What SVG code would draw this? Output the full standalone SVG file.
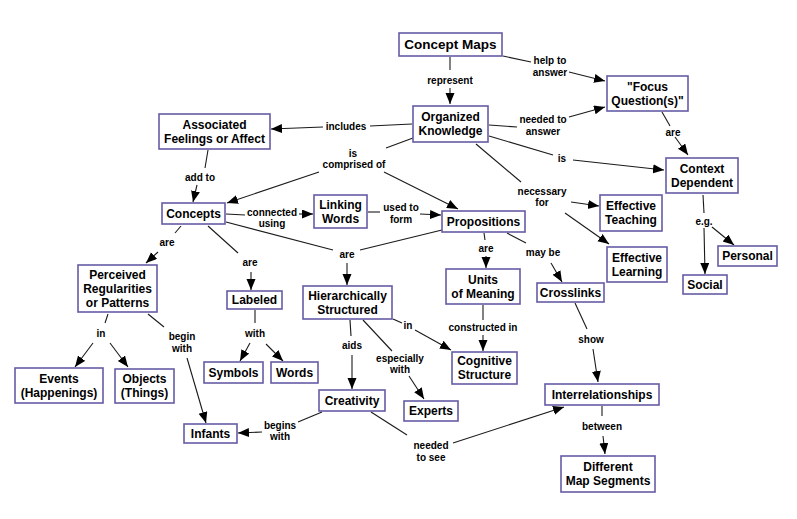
<svg xmlns="http://www.w3.org/2000/svg" width="797" height="519" viewBox="0 0 797 519">
<style>
.n rect{fill:#fff;stroke:#645ca6;stroke-width:1.6}
.n text{font-family:"Liberation Sans",Arial,sans-serif;font-weight:bold;font-size:12px;fill:#000;text-anchor:middle}
.c line{stroke:#1a1a1a;stroke-width:1.1}
.c .a{marker-end:url(#ah)}
.l{font-family:"Liberation Sans",Arial,sans-serif;font-weight:bold;font-size:10px;fill:#000;text-anchor:middle}
</style>
<defs>
<marker id="ah" markerUnits="userSpaceOnUse" markerWidth="12" markerHeight="10" refX="11" refY="4.5" orient="auto">
<path d="M0,0 L11,4.5 L0,9 z" fill="#000"/>
</marker>
</defs>
<rect width="797" height="519" fill="#fff"/>
<g id="connectors" class="c">
<line x1="450" y1="57" x2="450" y2="70"/><line class="a" x1="450" y1="88" x2="450" y2="104"/>
<line x1="503" y1="56" x2="531" y2="62"/><line class="a" x1="569" y1="72" x2="605" y2="81"/>
<line x1="489" y1="125" x2="517" y2="127"/><line class="a" x1="569" y1="117" x2="605" y2="107"/>
<line x1="662" y1="112" x2="670" y2="126"/><line class="a" x1="675" y1="137" x2="688" y2="155"/>
<line x1="489" y1="136" x2="553" y2="155"/><line class="a" x1="573" y1="160" x2="664" y2="170"/>
<line x1="412" y1="124" x2="370" y2="126"/><line class="a" x1="323" y1="127" x2="271" y2="129"/>
<line x1="413" y1="138" x2="386" y2="148"/><line class="a" x1="319" y1="172" x2="227" y2="203"/><line class="a" x1="384" y1="172" x2="458" y2="209"/>
<line x1="208" y1="150" x2="205" y2="168"/><line class="a" x1="197" y1="185" x2="193" y2="202"/>
<line x1="226" y1="214" x2="245" y2="215"/><line class="a" x1="299" y1="214" x2="313" y2="214"/>
<line x1="368" y1="212" x2="380" y2="212"/><line class="a" x1="420" y1="214" x2="441" y2="215"/>
<line x1="226" y1="222" x2="333" y2="250"/><line x1="442" y1="230" x2="360" y2="250"/><line class="a" x1="347" y1="263" x2="347" y2="285"/>
<line x1="181" y1="226" x2="175" y2="233"/><line class="a" x1="158" y1="252" x2="146" y2="263"/>
<line x1="208" y1="226" x2="238" y2="253"/><line class="a" x1="251" y1="272" x2="251" y2="290"/>
<line x1="484" y1="233" x2="485" y2="240"/><line class="a" x1="486" y1="256" x2="486" y2="268"/>
<line x1="507" y1="233" x2="526" y2="243"/><line class="a" x1="551" y1="263" x2="562" y2="282"/>
<line x1="476" y1="144" x2="521" y2="182"/><line class="a" x1="571" y1="202" x2="599" y2="206"/><line class="a" x1="565" y1="213" x2="609" y2="244"/>
<line x1="703" y1="195" x2="704" y2="213"/><line class="a" x1="704" y1="228" x2="705" y2="274"/><line class="a" x1="712" y1="227" x2="734" y2="245"/>
<line x1="108" y1="314" x2="105" y2="323"/><line class="a" x1="93" y1="343" x2="75" y2="367"/><line class="a" x1="110" y1="343" x2="128" y2="367"/>
<line x1="148" y1="314" x2="164" y2="327"/><line class="a" x1="187" y1="358" x2="206" y2="423"/>
<line x1="255" y1="310" x2="255" y2="323"/><line class="a" x1="250" y1="343" x2="240" y2="361"/><line class="a" x1="266" y1="344" x2="283" y2="361"/>
<line x1="350" y1="320" x2="351" y2="336"/><line class="a" x1="352" y1="355" x2="352" y2="389"/>
<line x1="363" y1="320" x2="392" y2="351"/><line class="a" x1="409" y1="376" x2="424" y2="399"/>
<line x1="393" y1="319" x2="402" y2="323"/><line class="a" x1="415" y1="330" x2="451" y2="350"/>
<line x1="483" y1="305" x2="483" y2="320"/><line class="a" x1="483" y1="335" x2="483" y2="351"/>
<line x1="575" y1="303" x2="587" y2="329"/><line class="a" x1="593" y1="349" x2="598" y2="382"/>
<line x1="602" y1="406" x2="602" y2="416"/><line class="a" x1="603" y1="436" x2="605" y2="454"/>
<line x1="322" y1="412" x2="298" y2="422"/><line class="a" x1="262" y1="432" x2="238" y2="433"/>
<line x1="371" y1="412" x2="407" y2="435"/><line class="a" x1="453" y1="443" x2="564" y2="407"/>
</g>
<g id="labels">
<text class="l" x="450" y="83.5">represent</text>
<text class="l" x="550" y="63.5">help to</text><text class="l" x="550" y="75.5">answer</text>
<text class="l" x="543" y="122.5">needed to</text><text class="l" x="543" y="134.5">answer</text>
<text class="l" x="673" y="135.5">are</text>
<text class="l" x="562" y="161.5">is</text>
<text class="l" x="346" y="129.5">includes</text>
<text class="l" x="353" y="156.5">is</text><text class="l" x="354" y="167.5">comprised of</text>
<text class="l" x="200" y="180.5">add to</text>
<text class="l" x="272" y="215.5">connected</text><text class="l" x="272" y="226.5">using</text>
<text class="l" x="401" y="210.5">used to</text><text class="l" x="401" y="222.5">form</text>
<text class="l" x="347" y="257.5">are</text>
<text class="l" x="167" y="245.5">are</text>
<text class="l" x="250" y="265.5">are</text>
<text class="l" x="486" y="251.5">are</text>
<text class="l" x="543" y="255.5">may be</text>
<text class="l" x="542" y="194.5">necessary</text><text class="l" x="542" y="205.5">for</text>
<text class="l" x="704" y="224.5">e.g.</text>
<text class="l" x="101" y="336.5">in</text>
<text class="l" x="182" y="339.5">begin</text><text class="l" x="182" y="351.5">with</text>
<text class="l" x="255" y="336.5">with</text>
<text class="l" x="352" y="348.5">aids</text>
<text class="l" x="400" y="361.5">especially</text><text class="l" x="400" y="372.5">with</text>
<text class="l" x="408" y="328.5">in</text>
<text class="l" x="483" y="330.5">constructed in</text>
<text class="l" x="591" y="342.5">show</text>
<text class="l" x="602" y="429.5">between</text>
<text class="l" x="280" y="428.5">begins</text><text class="l" x="280" y="439.5">with</text>
<text class="l" x="431" y="448.5">needed</text><text class="l" x="431" y="460.5">to see</text>
</g>
<g id="concept-maps" class="n"><rect x="399" y="33" width="103" height="23"/><text x="450.5" y="49.3" style="font-size:13.5px">Concept Maps</text></g>
<g id="organized-knowledge" class="n"><rect x="413" y="106" width="75" height="36"/><text x="450.5" y="121.3">Organized</text><text x="450.5" y="135.3">Knowledge</text></g>
<g id="focus-questions" class="n"><rect x="607" y="76" width="81" height="35"/><text x="647.5" y="90.8">"Focus</text><text x="647.5" y="104.8">Question(s)"</text></g>
<g id="associated-feelings" class="n"><rect x="159" y="114" width="111" height="35"/><text x="214.5" y="128.8">Associated</text><text x="214.5" y="142.8">Feelings or Affect</text></g>
<g id="context-dependent" class="n"><rect x="666" y="158" width="72" height="35"/><text x="702" y="172.8">Context</text><text x="702" y="186.8">Dependent</text></g>
<g id="concepts" class="n"><rect x="162" y="203" width="63" height="21"/><text x="193.5" y="217.8">Concepts</text></g>
<g id="linking-words" class="n"><rect x="314" y="195" width="53" height="33"/><text x="340.5" y="208.8">Linking</text><text x="340.5" y="222.8">Words</text></g>
<g id="propositions" class="n"><rect x="442" y="211" width="83" height="21"/><text x="483.5" y="225.8">Propositions</text></g>
<g id="effective-teaching" class="n"><rect x="600" y="195" width="62" height="36"/><text x="631" y="210.3">Effective</text><text x="631" y="224.3">Teaching</text></g>
<g id="effective-learning" class="n"><rect x="607" y="247" width="60" height="35"/><text x="637" y="261.8">Effective</text><text x="637" y="275.8">Learning</text></g>
<g id="units-of-meaning" class="n"><rect x="446" y="269" width="74" height="35"/><text x="483" y="283.8">Units</text><text x="483" y="297.8">of Meaning</text></g>
<g id="crosslinks" class="n"><rect x="537" y="283" width="67" height="19"/><text x="570.5" y="296.8">Crosslinks</text></g>
<g id="personal" class="n"><rect x="718" y="246" width="59" height="20"/><text x="747.5" y="260.3">Personal</text></g>
<g id="social" class="n"><rect x="683" y="275" width="44" height="19"/><text x="705" y="288.8">Social</text></g>
<g id="perceived-regularities" class="n"><rect x="78" y="265" width="79" height="47"/><text x="117.5" y="278.8">Perceived</text><text x="117.5" y="292.8">Regularities</text><text x="117.5" y="306.8">or Patterns</text></g>
<g id="labeled" class="n"><rect x="227" y="291" width="55" height="18"/><text x="254.5" y="304.3">Labeled</text></g>
<g id="hierarchically-structured" class="n"><rect x="303" y="286" width="89" height="33"/><text x="347.5" y="299.8">Hierarchically</text><text x="347.5" y="313.8">Structured</text></g>
<g id="events" class="n"><rect x="15" y="368" width="88" height="35"/><text x="59" y="382.8">Events</text><text x="59" y="396.8">(Happenings)</text></g>
<g id="objects" class="n"><rect x="115" y="369" width="59" height="34"/><text x="144.5" y="383.3">Objects</text><text x="144.5" y="397.3">(Things)</text></g>
<g id="infants" class="n"><rect x="184" y="424" width="53" height="19"/><text x="210.5" y="437.8">Infants</text></g>
<g id="symbols" class="n"><rect x="204" y="362" width="59" height="21"/><text x="233.5" y="376.8">Symbols</text></g>
<g id="words" class="n"><rect x="271" y="362" width="47" height="21"/><text x="294.5" y="376.8">Words</text></g>
<g id="creativity" class="n"><rect x="319" y="390" width="66" height="21"/><text x="352" y="404.8">Creativity</text></g>
<g id="experts" class="n"><rect x="404" y="401" width="54" height="20"/><text x="431" y="415.3">Experts</text></g>
<g id="cognitive-structure" class="n"><rect x="452" y="352" width="65" height="32"/><text x="484.5" y="365.3">Cognitive</text><text x="484.5" y="379.3">Structure</text></g>
<g id="interrelationships" class="n"><rect x="545" y="384" width="114" height="21"/><text x="602" y="398.8">Interrelationships</text></g>
<g id="different-map-segments" class="n"><rect x="561" y="456" width="94" height="36"/><text x="608" y="471.3">Different</text><text x="608" y="485.3">Map Segments</text></g>
</svg>
